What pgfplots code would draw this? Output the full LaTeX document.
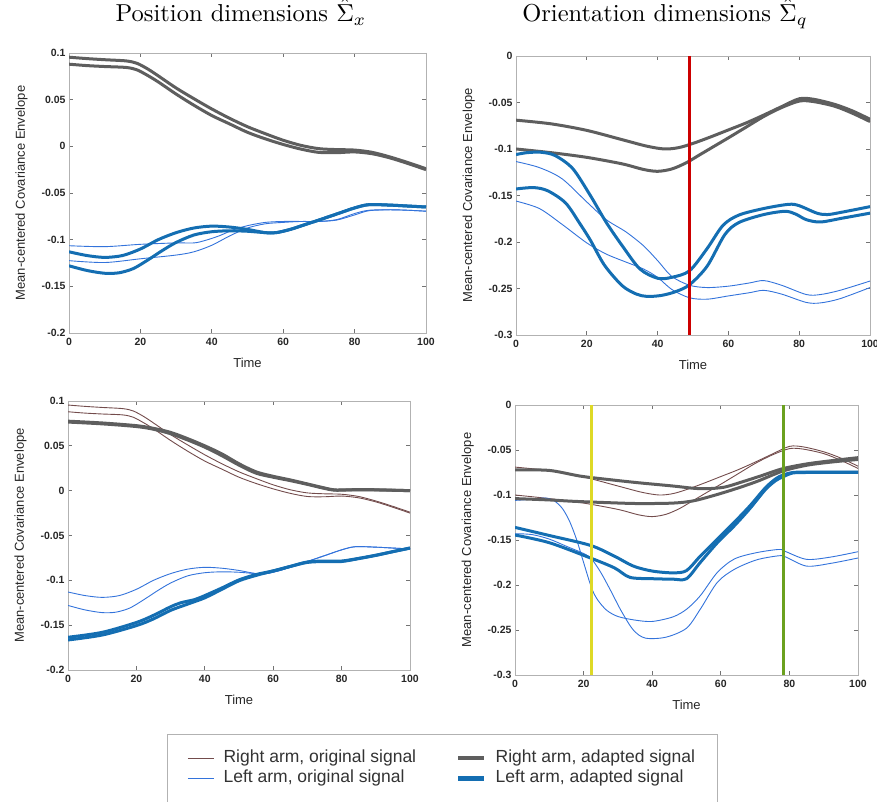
\documentclass[border=0pt]{standalone}
\usepackage{graphicx}
\usepackage{pgfplots}
\usepackage{pgfplotstable}
\pgfplotsset{compat=1.18}
\usepackage[no-math]{fontspec}
\newfontfamily\arial{Liberation Sans}

\definecolor{rorigc}{rgb}{0.45,0.30,0.30}
\definecolor{radapc}{rgb}{0.37,0.37,0.37}
\definecolor{lorigc}{rgb}{0.20,0.45,0.86}
\definecolor{ladapc}{rgb}{0.08,0.43,0.70}
\definecolor{vred}{rgb}{0.80,0.0,0.0}
\definecolor{vyel}{rgb}{0.87,0.85,0.15}
\definecolor{vgrn}{rgb}{0.42,0.63,0.12}

% ---------- Position: right arm (A,B) ----------
\pgfplotstableread{
x y
0 0.0955
5 0.094
10 0.0928
16 0.0915
19 0.089
22 0.083
25 0.0755
30 0.0625
35 0.051
40 0.040
45 0.030
50 0.021
55 0.0135
60 0.0065
65 0.001
70 -0.0025
75 -0.0035
80 -0.004
85 -0.0065
90 -0.0115
95 -0.0175
100 -0.024
}\tabA
\pgfplotstableread{
x y
0 0.088
5 0.0865
10 0.0855
16 0.0845
19 0.082
22 0.076
25 0.069
30 0.056
35 0.044
40 0.033
45 0.024
50 0.015
55 0.008
60 0.002
65 -0.003
70 -0.0065
75 -0.0068
80 -0.006
85 -0.008
90 -0.0125
95 -0.0185
100 -0.025
}\tabB
% ---------- Position: left arm (C1,C2) ----------
\pgfplotstableread{
x y
0 -0.113
5 -0.117
10 -0.119
15 -0.117
20 -0.110
25 -0.100
30 -0.0925
35 -0.0875
40 -0.0855
45 -0.0865
50 -0.089
55 -0.0925
58 -0.0925
62 -0.089
66 -0.084
70 -0.079
75 -0.0725
80 -0.066
84 -0.0625
90 -0.063
95 -0.064
100 -0.065
}\tabCa
\pgfplotstableread{
x y
0 -0.128
5 -0.133
10 -0.136
14 -0.1355
18 -0.131
22 -0.122
26 -0.112
30 -0.103
35 -0.095
40 -0.0915
45 -0.0905
50 -0.091
55 -0.0925
58 -0.0925
62 -0.089
66 -0.084
70 -0.079
75 -0.0725
80 -0.066
84 -0.0625
90 -0.063
95 -0.064
100 -0.065
}\tabCb
% ---------- Position top: left original (D1,D2) ----------
\pgfplotstableread{
x y
0 -0.1065
10 -0.1075
20 -0.105
30 -0.1035
35 -0.1035
38 -0.101
42 -0.096
46 -0.0895
50 -0.085
55 -0.0815
60 -0.0805
65 -0.0805
70 -0.0805
75 -0.079
80 -0.0735
84 -0.069
90 -0.068
95 -0.0685
100 -0.0695
}\tabDa
\pgfplotstableread{
x y
0 -0.1225
10 -0.1245
20 -0.1205
30 -0.1165
35 -0.113
40 -0.106
45 -0.096
50 -0.0875
55 -0.083
60 -0.0815
65 -0.0805
70 -0.0805
75 -0.0785
80 -0.072
84 -0.0685
90 -0.068
95 -0.0685
100 -0.0695
}\tabDb
% ---------- Position bottom: adapted right (M1,M2) ----------
\pgfplotstableread{
x y
0 0.0775
10 0.0755
20 0.0725
25 0.0695
30 0.065
35 0.058
40 0.050
45 0.041
50 0.030
55 0.021
60 0.016
65 0.012
70 0.0075
75 0.003
78 0.0008
82 0.001
90 0.001
100 0.0
}\tabMa
\pgfplotstableread{
x y
0 0.0765
10 0.0745
20 0.0715
25 0.0685
30 0.0635
35 0.0565
40 0.0485
45 0.039
50 0.0285
55 0.0195
60 0.015
65 0.0112
70 0.007
75 0.0025
78 0.0005
82 0.0008
90 0.0008
100 0.0
}\tabMb
% ---------- Position bottom: adapted left (E1,E2) ----------
\pgfplotstableread{
x y
0 -0.1635
10 -0.158
20 -0.147
25 -0.139
30 -0.1295
33 -0.125
37 -0.1215
40 -0.117
45 -0.1085
50 -0.0995
55 -0.0935
60 -0.0895
65 -0.0845
70 -0.0795
75 -0.0785
80 -0.0785
85 -0.0755
90 -0.072
95 -0.068
100 -0.064
}\tabEa
\pgfplotstableread{
x y
0 -0.1665
10 -0.161
20 -0.1505
25 -0.143
30 -0.1335
35 -0.1265
40 -0.1195
45 -0.110
50 -0.1005
55 -0.0945
60 -0.0895
65 -0.0845
70 -0.080
75 -0.079
80 -0.079
85 -0.0758
90 -0.0722
95 -0.068
100 -0.064
}\tabEb
% ---------- Orientation: right arm (F1,F2) ----------
\pgfplotstableread{
x y
0 -0.069
10 -0.073
20 -0.080
30 -0.090
37 -0.097
42 -0.100
46 -0.0985
50 -0.094
55 -0.087
60 -0.0795
65 -0.072
70 -0.0635
75 -0.0545
80 -0.046
84 -0.0465
90 -0.052
95 -0.059
100 -0.068
}\tabFa
\pgfplotstableread{
x y
0 -0.100
10 -0.104
20 -0.109
30 -0.116
36 -0.122
40 -0.124
44 -0.1215
48 -0.115
52 -0.106
56 -0.097
60 -0.088
65 -0.0765
70 -0.065
75 -0.0555
80 -0.0485
84 -0.049
90 -0.054
95 -0.0615
100 -0.0705
}\tabFb
% ---------- Orientation top: adapted left (G1,G2) ----------
\pgfplotstableread{
x y
0 -0.106
3 -0.104
7 -0.1035
11 -0.107
16 -0.121
21 -0.150
25.5 -0.179
30 -0.204
35 -0.229
40 -0.239
44 -0.238
49 -0.231
54 -0.207
58.5 -0.182
63 -0.171
70 -0.164
77 -0.1595
80 -0.161
85 -0.169
88 -0.1705
92 -0.168
100 -0.162
}\tabGa
\pgfplotstableread{
x y
0 -0.143
5 -0.1415
9 -0.145
14 -0.158
18 -0.180
21 -0.198
25 -0.225
30 -0.247
34 -0.256
37 -0.2585
41 -0.2575
45 -0.2535
49 -0.246
54 -0.226
59 -0.192
63 -0.179
70 -0.1705
76 -0.167
79 -0.170
82 -0.176
86 -0.1785
92 -0.1745
100 -0.169
}\tabGb
% ---------- Orientation top: original left (H1,H2) ----------
\pgfplotstableread{
x y
0 -0.1135
6.6 -0.120
13 -0.132
20 -0.157
25.5 -0.176
31 -0.189
36 -0.204
40 -0.220
44 -0.237
49 -0.2465
54 -0.249
60 -0.2475
66 -0.244
70 -0.2415
75 -0.2465
82 -0.2565
86 -0.2565
91.5 -0.252
100 -0.242
}\tabHa
\pgfplotstableread{
x y
0 -0.156
6.6 -0.164
13 -0.181
20 -0.201
25.5 -0.213
31 -0.2215
36 -0.229
40 -0.238
44 -0.251
49 -0.260
54 -0.2615
60 -0.258
66 -0.2545
70 -0.252
75 -0.256
82 -0.265
86 -0.2655
91.5 -0.261
100 -0.249
}\tabHb
% ---------- Orientation bottom: adapted right (J1,J2) ----------
\pgfplotstableread{
x y
0 -0.072
10 -0.0727
19 -0.079
27 -0.0827
36 -0.0864
46 -0.090
52 -0.0925
56 -0.093
61 -0.0913
66 -0.0857
71.5 -0.079
78 -0.0708
85 -0.0655
92 -0.062
100 -0.0585
}\tabJa
\pgfplotstableread{
x y
0 -0.104
10 -0.1055
17 -0.107
27 -0.1085
36 -0.1095
46 -0.109
52 -0.1065
58 -0.1005
64 -0.0935
70.5 -0.085
78 -0.0735
85 -0.067
92 -0.0635
100 -0.0605
}\tabJb
% ---------- Orientation bottom: adapted left (K1,K2) ----------
\pgfplotstableread{
x y
0 -0.136
10 -0.145
22 -0.156
29 -0.168
34.5 -0.179
40 -0.1845
46 -0.1865
50 -0.184
54 -0.168
59 -0.149
64 -0.130
68.5 -0.112
73 -0.092
76 -0.082
78 -0.078
81 -0.075
85 -0.0745
100 -0.0745
}\tabKa
\pgfplotstableread{
x y
0 -0.1445
10 -0.153
22 -0.170
29 -0.181
33.5 -0.1915
40 -0.193
46 -0.1935
50 -0.193
54 -0.175
59 -0.153
64 -0.134
68.5 -0.115
73 -0.094
76 -0.084
78 -0.080
81 -0.0755
85 -0.075
100 -0.075
}\tabKb
% ---------- Orientation bottom: original left (L1,L2) ----------
\pgfplotstableread{
x y
0 -0.106
4 -0.105
8 -0.1035
10 -0.104
12 -0.108
14 -0.116
16 -0.130
18 -0.150
20 -0.175
22.3 -0.203
24 -0.216
26.7 -0.228
30 -0.235
35 -0.239
40 -0.2405
46 -0.2355
50 -0.227
54 -0.212
59 -0.186
64 -0.171
70.5 -0.164
77 -0.1605
79 -0.163
85 -0.1715
92 -0.169
100 -0.163
}\tabLa
\pgfplotstableread{
x y
0 -0.143
5 -0.144
10 -0.149
15 -0.157
20 -0.165
22.3 -0.171
25 -0.186
28 -0.207
31 -0.229
34.5 -0.250
38 -0.259
44 -0.258
50 -0.248
54 -0.227
59 -0.197
64 -0.1825
70.5 -0.172
77 -0.1675
79 -0.169
85 -0.179
92 -0.176
100 -0.170
}\tabLb

\pgfplotsset{
  myax/.style={
    anchor=south west, scale only axis,
    xmin=0, xmax=100,
    xtick={0,20,40,60,80,100}, xticklabels={0,20,40,60,80,100},
    axis line style={draw=black!30, line width=0.8pt},
    major tick style={draw=black!55, line width=0.7pt},
    major tick length=4pt, tick align=inside,
    tick label style={font=\fontsize{10.5}{12}\selectfont\arial\bfseries, text=black!85},
    xticklabel style={yshift=-2pt},
    label style={font=\fontsize{13}{15}\selectfont\arial, text=black!85},
    xlabel={Time},
    ylabel={Mean-centered Covariance Envelope},
    xlabel style={at={([yshift=-35pt]axis description cs:0.5,0)}, anchor=base},
    ylabel style={at={([xshift=-44pt]axis description cs:0,0.5)}, anchor=base},
    title style={font=\fontsize{10}{12}\selectfont, anchor=base, inner sep=0pt},
  },
  posax/.style={ymin=-0.2, ymax=0.1,
    ytick={-0.2,-0.15,-0.1,-0.05,0,0.05,0.1},
    yticklabels={-0.2,-0.15,-0.1,-0.05,0,0.05,0.1}},
  oriax/.style={ymin=-0.3, ymax=0,
    ytick={-0.3,-0.25,-0.2,-0.15,-0.1,-0.05,0},
    yticklabels={-0.3,-0.25,-0.2,-0.15,-0.1,-0.05,0}},
  rorig/.style={color=rorigc, line width=0.9pt},
  radap/.style={color=radapc, line width=3pt},
  lorig/.style={color=lorigc, line width=0.9pt},
  ladap/.style={color=ladapc, line width=3pt},
}

\begin{document}
\begin{tikzpicture}
\path[use as bounding box] (0,0) rectangle (877pt,802pt);

% ---------------- Top left ----------------
\begin{axis}[myax, posax, at={(69pt,469pt)}, width=357pt, height=280pt,
  title={\scalebox{2.45}{Position dimensions $\hat{\Sigma}_x$}},
  title style={at={(axis description cs:0.4818,1.0893)}}]
\addplot[rorig, smooth] table {\tabA};
\addplot[rorig, smooth] table {\tabB};
\addplot[lorig, smooth] table {\tabDa};
\addplot[lorig, smooth] table {\tabDb};
\addplot[radap, smooth] table {\tabA};
\addplot[radap, smooth] table {\tabB};
\addplot[ladap, smooth] table {\tabCa};
\addplot[ladap, smooth] table {\tabCb};
\end{axis}

% ---------------- Top right ----------------
\begin{axis}[myax, oriax, at={(516pt,467pt)}, width=354pt, height=279pt,
  title={\scalebox{2.45}{Orientation dimensions $\hat{\Sigma}_q$}},
  title style={at={(axis description cs:0.4209,1.1004)}}]
\addplot[rorig, smooth] table {\tabFa};
\addplot[rorig, smooth] table {\tabFb};
\addplot[lorig, smooth] table {\tabHa};
\addplot[lorig, smooth] table {\tabHb};
\addplot[radap, smooth] table {\tabFa};
\addplot[radap, smooth] table {\tabFb};
\addplot[ladap, smooth] table {\tabGa};
\addplot[ladap, smooth] table {\tabGb};
\addplot[vred, line width=3pt] coordinates {(49,0) (49,-0.3)};
\end{axis}

% ---------------- Bottom left ----------------
\begin{axis}[myax, posax, at={(68pt,132pt)}, width=342pt, height=269pt]
\addplot[rorig, smooth] table {\tabA};
\addplot[rorig, smooth] table {\tabB};
\addplot[lorig, smooth] table {\tabCa};
\addplot[lorig, smooth] table {\tabCb};
\addplot[radap, smooth] table {\tabMa};
\addplot[radap, smooth] table {\tabMb};
\addplot[ladap, smooth] table {\tabEa};
\addplot[ladap, smooth] table {\tabEb};
\end{axis}

% ---------------- Bottom right ----------------
\begin{axis}[myax, oriax, at={(515pt,127pt)}, width=343pt, height=270pt,
  legend columns=2,
  legend cell align=left,
  legend image code/.code={\draw[#1] (0pt,0pt) -- (26pt,0pt); \path (33pt,0pt);},
  legend style={
    at={(axis description cs:-1.01458,-0.21852)}, anchor=north west,
    draw=black!30, line width=0.8pt,
    font=\fontsize{17.5}{20}\selectfont\arial, text=black!80,
    inner xsep=20pt, inner ysep=13.5pt,
    nodes={text height=12.5pt, text depth=4pt, inner sep=2pt},
    /tikz/every even column/.append style={column sep=38pt},
  }]
\addlegendimage{color=rorigc, line width=1pt}
\addlegendentry{Right arm, original signal}
\addlegendimage{color=radapc, line width=4.5pt}
\addlegendentry{Right arm, adapted signal}
\addlegendimage{color=lorigc, line width=1.2pt}
\addlegendentry{Left arm, original signal}
\addlegendimage{color=ladapc, line width=4.5pt}
\addlegendentry{Left arm, adapted signal}
\addplot[rorig, smooth, forget plot] table {\tabFa};
\addplot[rorig, smooth, forget plot] table {\tabFb};
\addplot[lorig, smooth, forget plot] table {\tabLa};
\addplot[lorig, smooth, forget plot] table {\tabLb};
\addplot[radap, smooth, forget plot] table {\tabJa};
\addplot[radap, smooth, forget plot] table {\tabJb};
\addplot[ladap, smooth, forget plot] table {\tabKa};
\addplot[ladap, smooth, forget plot] table {\tabKb};
\addplot[vyel, line width=3pt, forget plot] coordinates {(22.3,0) (22.3,-0.3)};
\addplot[vgrn, line width=3pt, forget plot] coordinates {(78.3,0) (78.3,-0.3)};
\end{axis}
\end{tikzpicture}
\end{document}
